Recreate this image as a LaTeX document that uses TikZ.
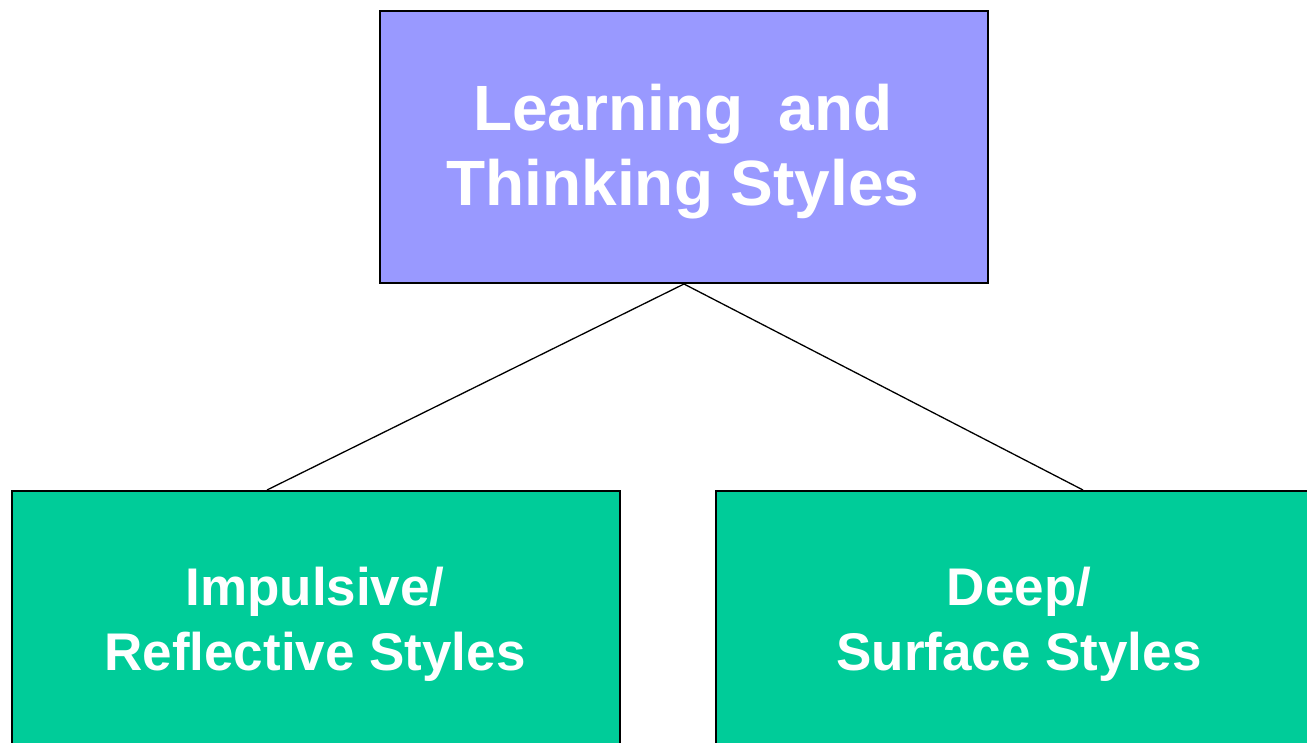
\documentclass[tikz,border=0pt]{standalone}
\usepackage{fontspec}
\setmainfont{Liberation Sans}
\begin{document}
\begin{tikzpicture}[x=1pt,y=-1pt,
  box/.style={draw=black,line width=2pt,inner sep=0pt,anchor=north west},
  topbox/.style={box,fill={rgb,255:red,153;green,153;blue,255}},
  greenbox/.style={box,fill={rgb,255:red,0;green,204;blue,153}},
  lbl/.style={text=white,font=\bfseries,align=center,inner sep=0pt},
  link/.style={draw=black,line width=1.3pt}]
\useasboundingbox (0,0) rectangle (1307,742);
\clip (0,0) rectangle (1307,742);
\node[topbox,minimum width=608pt,minimum height=272pt] (top) at (379,10) {};
\node[greenbox,minimum width=608pt,minimum height=300pt] (left) at (11,490) {};
\node[greenbox,minimum width=640pt,minimum height=300pt] (right) at (715,490) {};
\node[lbl,font=\bfseries\fontsize{64}{75}\selectfont] (toptext) at (683,152) {Learning\ \ and\\Thinking Styles};
\node[lbl,font=\bfseries\fontsize{53}{65}\selectfont] (lefttext) at (315,624) {Impulsive/\\Reflective Styles};
\node[lbl,font=\bfseries\fontsize{53}{65}\selectfont] (righttext) at (1019,624) {Deep/\\Surface Styles};
\coordinate (lend) at (267,490);
\coordinate (rend) at (1083,490);
\draw[link] (top.south) -- (lend);
\draw[link] (top.south) -- (rend);
\end{tikzpicture}
\end{document}
